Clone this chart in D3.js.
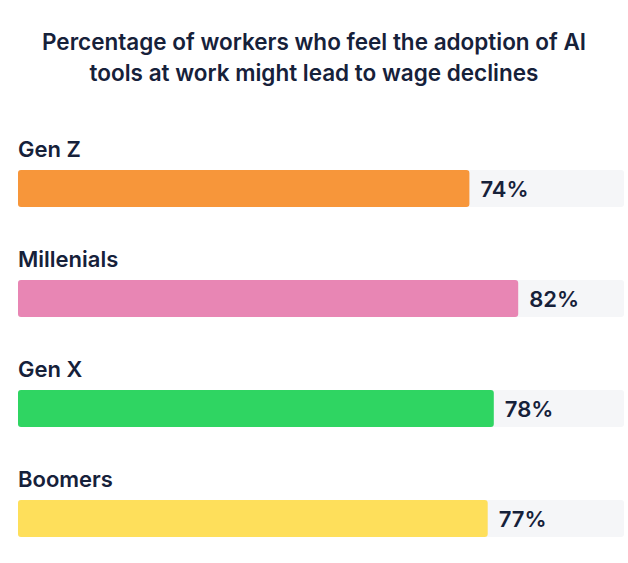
<!DOCTYPE html>
<html><head><meta charset="utf-8">
<script src="https://cdn.jsdelivr.net/npm/d3@7"></script>
<style>body{margin:0;background:#fff}svg{display:block}</style>
</head><body>
<script>
const titleLines = ["Percentage of workers who feel the adoption of AI", "tools at work might lead to wage declines"];
const categories = ["Gen Z", "Millenials", "Gen X", "Boomers"];
const values = [74, 82, 78, 77];
const colors = ["#f7963a", "#e886b4", "#2fd562", "#fedf5b"];

const W = 628, H = 563;
const svg = d3.select("body").append("svg").attr("width", W).attr("height", H);
const font = "Inter, 'Open Sans', sans-serif";
const ink = "#16213a";

svg.selectAll("text.title").data(titleLines).join("text")
  .attr("x", 314).attr("y", (d,i)=>50 + i*31)
  .attr("text-anchor","middle").attr("font-family",font).attr("font-weight",600)
  .attr("font-size",22.5).attr("fill",ink).text(d=>d);

const x = d3.scaleLinear().domain([0,100]).range([18, 628]);
const y = d3.scaleBand().domain(categories).range([130, 570]).paddingInner(0).paddingOuter(0);
const barTop = c => y(c) + 40, barH = 37;

const g = svg.selectAll("g.row").data(categories).join("g").attr("class","row");
g.append("rect").attr("x", x(0)).attr("y", c=>barTop(c)).attr("width", 624 - x(0)).attr("height", barH)
  .attr("rx", 3).attr("fill", "#f5f6f8");
g.append("rect").attr("x", x(0)).attr("y", c=>barTop(c)).attr("width", (c,i)=>x(values[i]) - x(0)).attr("height", barH)
  .attr("rx", 3).attr("fill", (c,i)=>colors[i]);
g.append("text").attr("x", 18).attr("y", c=>barTop(c) - 13)
  .attr("font-family",font).attr("font-weight",600).attr("font-size",22).attr("fill",ink).text(c=>c);
g.append("text").attr("x", (c,i)=>x(values[i]) + 11).attr("y", c=>barTop(c) + 27)
  .attr("font-family",font).attr("font-weight",600).attr("font-size",22).attr("fill",ink).text((c,i)=>values[i]+"%");
</script>
</body></html>
